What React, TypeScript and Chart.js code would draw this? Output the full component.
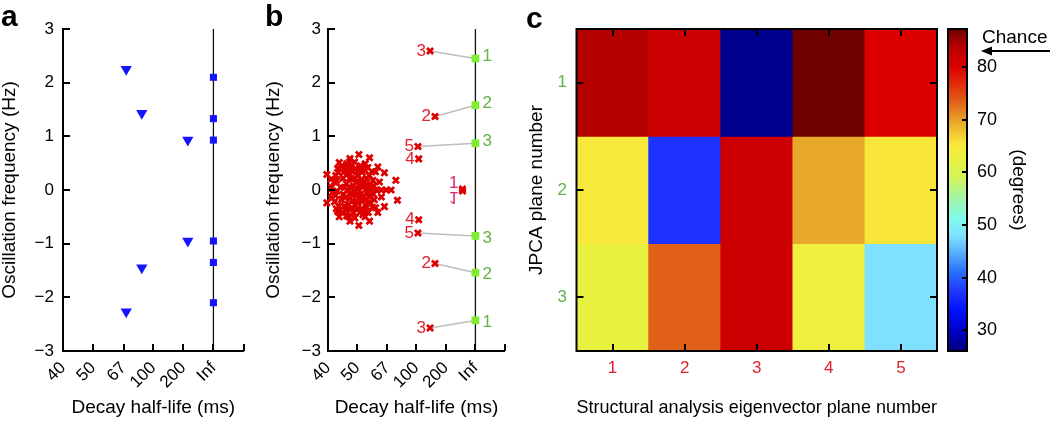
import React, { useEffect, useRef } from 'react';
import { Chart, registerables } from 'chart.js';

Chart.register(...registerables);

const FONT_FAMILY = '"Liberation Sans", Arial, Helvetica, sans-serif';
Chart.defaults.font.family = FONT_FAMILY;
Chart.defaults.color = '#000';

// ---------------- shared axes of panels a and b ----------------
const HALF_LIFE_TICKS_MS = [40, 50, 67, 100, 200, Infinity];
const HALF_LIFE_TICK_LABELS = ['40', '50', '67', '100', '200', 'Inf'];
const FREQ_TICKS_HZ = [-3, -2, -1, 0, 1, 2, 3];
const RATE_MIN = -0.005; // right end of the decay axis (1/ms)
const RATE_MAX = 0.025; // 40 ms

// ---------------- panel a ----------------
const A_TRIANGLE_HALF_LIFE = [69, 84, 235, 235, 84, 69];
const A_TRIANGLE_FREQ = [2.25, 1.43, 0.93, -0.95, -1.45, -2.27];
const A_SQUARE_HALF_LIFE = [Infinity, Infinity, Infinity, Infinity, Infinity, Infinity];
const A_SQUARE_FREQ = [2.1, 1.33, 0.93, -0.95, -1.35, -2.1];

// ---------------- panel b ----------------
const B_CLUSTER: [number, number][] = [
  [50.6, 0.66], [47.0, 0.585], [55.7, 0.6], [43.3, 0.51], [45.8, 0.49], [53.5, 0.49], [60.4, 0.43],
  [64.8, 0.32], [42.8, 0.4], [59.0, 0.34], [39.7, 0.29], [39.7, -0.24], [42.2, 0.27], [41.8, 0.15],
  [42.2, -0.1], [41.9, -0.22], [61.4, 0.15], [62.7, -0.13], [74.1, 0.18], [75.6, -0.19],
  [56.8, 0], [59.6, 0], [62.7, 0], [66.1, 0], [69.9, 0],
  [50.6, -0.66], [47.0, -0.58], [55.7, -0.58], [43.3, -0.5], [45.8, -0.48], [53.5, -0.5], [60.4, -0.42],
  [64.8, -0.31], [42.8, -0.4], [59.0, -0.33],
  [43.0, 0.33], [44.5, 0.22], [43.8, 0.05], [44.0, -0.18], [43.2, -0.3],
  [45.5, 0.4], [46.2, 0.3], [45.7, 0.12], [46.0, -0.02], [45.4, -0.14], [46.3, -0.27], [45.6, -0.38],
  [47.3, 0.44], [48.0, 0.34], [47.6, 0.2], [48.3, 0.08], [47.5, -0.06], [48.1, -0.2], [47.7, -0.33], [48.4, -0.43],
  [49.3, 0.4], [50.1, 0.28], [49.6, 0.14], [50.3, 0.02], [49.5, -0.1], [50.2, -0.24], [49.8, -0.36],
  [51.3, 0.45], [52.0, 0.33], [51.6, 0.19], [52.3, 0.05], [51.5, -0.08], [52.1, -0.21], [51.7, -0.35], [52.4, -0.46],
  [53.5, 0.36], [54.2, 0.22], [53.8, 0.08], [54.4, -0.05], [53.6, -0.18], [54.1, -0.31],
  [55.6, 0.27], [56.0, 0.1], [55.4, -0.12], [56.2, -0.24], [57.5, 0.18], [57.8, -0.08],
  [41.0, 0.05], [41.2, -0.05], [40.8, 0.2], [41.0, -0.15], [42.5, 0.18], [42.6, -0.02], [42.4, -0.35],
  [44.0, 0.44], [44.8, 0.33], [45.0, 0.05], [44.6, -0.08], [44.9, -0.3], [44.2, -0.42],
  [46.8, 0.52], [46.9, 0.22], [46.7, 0.05], [46.9, -0.16], [46.8, -0.36], [46.6, -0.5],
  [48.8, 0.52], [49.0, 0.22], [48.9, -0.02], [49.0, -0.28], [48.9, -0.52],
  [50.8, 0.38], [50.9, 0.1], [50.7, -0.15], [51.0, -0.42],
  [52.9, 0.42], [53.0, 0.14], [52.8, -0.12], [53.0, -0.4],
  [54.8, 0.42], [55.0, 0.02], [54.9, -0.24], [55.0, -0.42],
  [57.0, 0.34], [57.2, -0.32], [58.0, 0.08], [58.3, -0.18],
];
const B_EIG_LABELS = ['3', '2', '5', '4', '3', '2', '5', '4'];
const B_EIG_HALF_LIFE = [130, 146, 102.6, 104, 130, 146, 102.6, 104];
const B_EIG_FREQ = [2.59, 1.37, 0.81, 0.58, -2.57, -1.37, -0.8, -0.555];
const B_SLOW_LABELS = ['1', '1'];
const B_SLOW_HALF_LIFE = [456, 456];
const B_SLOW_FREQ = [0.02, -0.02];
const B_JPCA_LABELS = ['1', '2', '3', '3', '2', '1'];
const B_JPCA_HALF_LIFE = [Infinity, Infinity, Infinity, Infinity, Infinity, Infinity];
const B_JPCA_FREQ = [2.45, 1.58, 0.87, -0.855, -1.54, -2.43];
// [index in B_EIG, index in B_JPCA]
const B_LINKS: [number, number][] = [[0, 0], [1, 1], [2, 2], [4, 5], [5, 4], [6, 3]];

// ---------------- panel c ----------------
const C_COLUMNS = ['1', '2', '3', '4', '5'];
const C_ROWS = [1, 2, 3];
const C_ROW_1 = [84, 82, 27, 87.2, 80];
const C_ROW_2 = [65, 37, 82, 69.5, 65.5];
const C_ROW_3 = [62.5, 73.5, 82, 63.5, 48];
const C_COLORBAR_MIN = 26.1;
const C_COLORBAR_MAX = 87.2;
const C_COLORBAR_TICKS = [30, 40, 50, 60, 70, 80];
const C_CHANCE = 83;

// colormap (style)
const COLOR_STOPS: [number, number[]][] = [
  [26.1, [0, 0, 125]], [30, [0, 0, 200]], [34, [0, 20, 255]], [37, [30, 50, 255]], [41, [40, 110, 255]],
  [45, [90, 180, 250]], [48, [128, 224, 255]], [51, [128, 250, 240]], [55, [160, 245, 170]], [59, [210, 245, 90]],
  [62.5, [232, 240, 64]], [63.5, [240, 240, 64]], [65.5, [248, 230, 58]], [69.5, [232, 168, 42]],
  [73.5, [224, 96, 24]], [77, [225, 40, 10]], [80, [221, 0, 0]], [82, [204, 0, 0]], [84, [181, 0, 0]],
  [87.2, [110, 0, 0]],
];

function colorFor(v: number): string {
  if (v <= COLOR_STOPS[0][0]) return `rgb(${COLOR_STOPS[0][1].join(',')})`;
  for (let i = 1; i < COLOR_STOPS.length; i++) {
    const [v1, c1] = COLOR_STOPS[i];
    const [v0, c0] = COLOR_STOPS[i - 1];
    if (v <= v1) {
      const t = (v - v0) / (v1 - v0);
      const c = c0.map((x, k) => Math.round(x + (c1[k] - x) * t));
      return `rgb(${c.join(',')})`;
    }
  }
  return `rgb(${COLOR_STOPS[COLOR_STOPS.length - 1][1].join(',')})`;
}

const toRate = (ms: number) => 1 / ms;
const minus = (v: number) => (v < 0 ? '\u2212' + Math.abs(v) : String(v));

const RED = '#dd0000';
const RED_TEXT = '#e0202e';
const GREEN_TEXT = '#62b246';
const GREEN_SQ = '#80ee30';
const BLUE = '#1414ff';

const noGrid = { display: false, drawTicks: false };

// fixed axis box sizes, no extra layout padding from labels
const fixHeight = (h: number) => (s: any) => {
  s.height = h;
  s.paddingLeft = 0; s.paddingRight = 0; s.paddingTop = 0; s.paddingBottom = 0;
};
const fixWidth = (w: number) => (s: any) => {
  s.width = w;
  s.paddingLeft = 0; s.paddingRight = 0; s.paddingTop = 0; s.paddingBottom = 0;
};

type Side = 'top' | 'bottom' | 'left' | 'right';
type Mark = { scale: string; values: number[]; sides: Side[]; len: number };

// inward tick marks at the scales' own tick values, plus optional frame (one instance per chart)
function makeTickPlugin(marks: Mark[], frame: boolean) {
  return {
    id: 'inwardTicks',
    afterDraw(chart: any) {
      const ctx = chart.ctx;
      const a = chart.chartArea;
      ctx.save();
      ctx.strokeStyle = '#000';
      ctx.lineWidth = 2;
      ctx.lineCap = 'butt';
      marks.forEach((m) => {
        const s = chart.scales[m.scale];
        m.values.forEach((v) => {
          const p = Math.round(s.getPixelForValue(v));
          m.sides.forEach((side) => {
            ctx.beginPath();
            if (side === 'bottom') { ctx.moveTo(p, a.bottom); ctx.lineTo(p, a.bottom - m.len); }
            else if (side === 'top') { ctx.moveTo(p, a.top); ctx.lineTo(p, a.top + m.len); }
            else if (side === 'left') { ctx.moveTo(a.left, p); ctx.lineTo(a.left + m.len, p); }
            else { ctx.moveTo(a.right, p); ctx.lineTo(a.right - m.len, p); }
            ctx.stroke();
          });
        });
      });
      if (frame) ctx.strokeRect(a.left, a.top, a.right - a.left, a.bottom - a.top);
      ctx.restore();
    },
  };
}

const pointTextPlugin = {
  id: 'pointText',
  afterDatasetsDraw(chart: any) {
    const ctx = chart.ctx;
    chart.data.datasets.forEach((ds: any, i: number) => {
      if (!ds.pointText) return;
      const meta = chart.getDatasetMeta(i);
      ctx.save();
      ctx.font = `17px ${FONT_FAMILY}`;
      ctx.fillStyle = ds.textColor;
      ctx.textBaseline = 'middle';
      ctx.textAlign = ds.textSide === 'left' ? 'right' : 'left';
      meta.data.forEach((el: any, j: number) => {
        const below = ds.data[j].y < 0;
        const dx = ds.textSide === 'left' ? -ds.textGap : ds.textGap;
        const dy = ds.textLift ? (below ? ds.textLift : -ds.textLift) : 0;
        ctx.save();
        ctx.translate(el.x + dx, el.y + dy);
        if (ds.flipBelow && below) ctx.scale(1, -1);
        ctx.fillText(ds.pointText[j], 0, 0);
        ctx.restore();
      });
      ctx.restore();
    });
  },
};

function decayScales(yWidth: number, yTitlePad: number, yTickPad: number) {
  return {
    x: {
      type: 'linear',
      min: RATE_MIN,
      max: RATE_MAX,
      reverse: true,
      grid: noGrid,
      border: { display: true, color: '#000', width: 2 },
      afterBuildTicks: (s: any) => { s.ticks = HALF_LIFE_TICKS_MS.map((t) => ({ value: toRate(t) })); },
      afterFit: fixHeight(70),
      ticks: {
        autoSkip: false, minRotation: 45, maxRotation: 45, padding: 7, color: '#000',
        font: { size: 17 },
        callback: (_v: any, i: number) => HALF_LIFE_TICK_LABELS[i],
      },
      title: { display: true, text: 'Decay half-life (ms)', color: '#000', font: { size: 19 }, padding: { top: 0, bottom: 2 } },
    },
    y: {
      type: 'linear',
      min: -3,
      max: 3,
      grid: noGrid,
      border: { display: true, color: '#000', width: 2 },
      afterBuildTicks: (s: any) => { s.ticks = FREQ_TICKS_HZ.map((v) => ({ value: v })); },
      afterFit: fixWidth(yWidth),
      ticks: { padding: yTickPad, color: '#000', font: { size: 17 }, callback: (v: any) => minus(Number(v)) },
      title: { display: true, text: 'Oscillation frequency (Hz)', color: '#000', font: { size: 19 }, padding: { top: yTitlePad, bottom: 0 } },
    },
  };
}

const decayMarks = (): Mark[] => [
  { scale: 'x', values: [...HALF_LIFE_TICKS_MS.map(toRate), RATE_MIN], sides: ['bottom'], len: 7 },
  { scale: 'y', values: FREQ_TICKS_HZ, sides: ['left'], len: 7 },
];

const infLine = () => ({
  data: [{ x: 0, y: -3 }, { x: 0, y: 3 }],
  showLine: true, borderColor: '#111', borderWidth: 1.3, pointRadius: 0, clip: false,
});

const baseOptions = {
  responsive: false,
  animation: false,
  events: [],
  plugins: { legend: { display: false }, tooltip: { enabled: false } },
};

function configA(): any {
  return {
    type: 'scatter',
    data: {
      datasets: [
        {
          data: A_SQUARE_HALF_LIFE.map((t, i) => ({ x: toRate(t), y: A_SQUARE_FREQ[i] })),
          pointStyle: 'rect', pointRadius: 5, backgroundColor: BLUE, borderColor: BLUE, borderWidth: 0, clip: false,
        },
        {
          data: A_TRIANGLE_HALF_LIFE.map((t, i) => ({ x: toRate(t), y: A_TRIANGLE_FREQ[i] })),
          pointStyle: 'triangle', rotation: 180, pointRadius: 6.5, backgroundColor: BLUE, borderColor: BLUE, borderWidth: 0, clip: false,
        },
        infLine(),
      ],
    },
    options: {
      ...baseOptions,
      layout: { padding: { left: 0, right: 4, top: 29, bottom: 0 } },
      scales: decayScales(65, 0, 9),
    },
    plugins: [makeTickPlugin(decayMarks(), false)],
  };
}

function configB(): any {
  const eigPts = B_EIG_HALF_LIFE.map((t, i) => ({ x: toRate(t), y: B_EIG_FREQ[i] }));
  const jpcaPts = B_JPCA_HALF_LIFE.map((t, i) => ({ x: toRate(t), y: B_JPCA_FREQ[i] }));
  const cross = { pointStyle: 'crossRot', pointRadius: 4.3, borderColor: RED, backgroundColor: RED, borderWidth: 2.8, clip: false };
  return {
    type: 'scatter',
    data: {
      datasets: [
        {
          data: jpcaPts, pointStyle: 'rect', pointRadius: 5.5, backgroundColor: GREEN_SQ, borderColor: GREEN_SQ,
          borderWidth: 0, clip: false,
          pointText: B_JPCA_LABELS, textColor: GREEN_TEXT, textSide: 'right', textGap: 7, textLift: 2,
        },
        { data: eigPts, ...cross, pointText: B_EIG_LABELS, textColor: RED_TEXT, textSide: 'left', textGap: 4 },
        {
          data: B_SLOW_HALF_LIFE.map((t, i) => ({ x: toRate(t), y: B_SLOW_FREQ[i] })), ...cross,
          pointText: B_SLOW_LABELS, textColor: '#d8246a', textSide: 'left', textGap: 4, textLift: 6, flipBelow: true,
        },
        { data: B_CLUSTER.map(([t, f]) => ({ x: toRate(t), y: f })), ...cross },
        ...B_LINKS.map(([e, j]) => ({
          data: [eigPts[e], jpcaPts[j]], showLine: true, borderColor: '#bdbdbd', borderWidth: 1.5, pointRadius: 0, clip: false,
        })),
        infLine(),
      ],
    },
    options: {
      ...baseOptions,
      layout: { padding: { left: 0, right: 2, top: 29, bottom: 0 } },
      scales: decayScales(78, 12.6, 7),
    },
    plugins: [makeTickPlugin(decayMarks(), false), pointTextPlugin],
  };
}

function configC(): any {
  const rows = [C_ROW_1, C_ROW_2, C_ROW_3];
  return {
    type: 'bar',
    data: {
      labels: C_COLUMNS,
      datasets: C_ROWS.map((r, ri) => ({
        data: C_COLUMNS.map(() => [r - 0.5, r + 0.5]),
        backgroundColor: rows[ri].map(colorFor),
        borderWidth: 0, grouped: false, barPercentage: 1, categoryPercentage: 1,
      })),
    },
    options: {
      ...baseOptions,
      layout: { padding: { left: 0, right: 5, top: 29, bottom: 0 } },
      scales: {
        x: {
          type: 'category', offset: true,
          grid: noGrid, border: { display: false },
          afterFit: fixHeight(70),
          ticks: { color: RED_TEXT, font: { size: 17 }, padding: 7, minRotation: 0, maxRotation: 0 },
          title: { display: true, text: 'Structural analysis eigenvector plane number', color: '#000', font: { size: 19 }, padding: { top: 0, bottom: 2 } },
        },
        y: {
          type: 'linear', min: 0.5, max: 3.5, reverse: true,
          grid: noGrid, border: { display: false },
          afterBuildTicks: (s: any) => { s.ticks = C_ROWS.map((v) => ({ value: v })); },
          afterFit: fixWidth(61.5),
          ticks: { color: GREEN_TEXT, font: { size: 17 }, padding: 9.5 },
          title: { display: true, text: 'JPCA plane number', color: '#000', font: { size: 19 }, padding: { top: 10.5, bottom: 0 } },
        },
      },
    },
    plugins: [
      makeTickPlugin(
        [
          { scale: 'x', values: C_COLUMNS.map((_c, i) => i), sides: ['bottom', 'top'], len: 7 },
          { scale: 'y', values: C_ROWS, sides: ['left', 'right'], len: 7 },
        ],
        true,
      ),
    ],
  };
}

function configColorbar(): any {
  return {
    type: 'bar',
    data: {
      labels: [''],
      datasets: [
        {
          data: [[C_COLORBAR_MIN, C_COLORBAR_MAX]],
          borderWidth: 0, barPercentage: 1, categoryPercentage: 1,
          backgroundColor: (ctx: any) => {
            const chart = ctx.chart;
            const y = chart.scales && chart.scales.y;
            if (!chart.chartArea || !y) return colorFor(60);
            const g = chart.ctx.createLinearGradient(0, y.getPixelForValue(C_COLORBAR_MIN), 0, y.getPixelForValue(C_COLORBAR_MAX));
            for (const [v, c] of COLOR_STOPS) {
              const t = (v - C_COLORBAR_MIN) / (C_COLORBAR_MAX - C_COLORBAR_MIN);
              g.addColorStop(Math.min(1, Math.max(0, t)), `rgb(${c.join(',')})`);
            }
            return g;
          },
        },
      ],
    },
    options: {
      ...baseOptions,
      layout: { padding: { left: 6, right: 0, top: 29, bottom: 70 } },
      scales: {
        x: { display: false, offset: true },
        y: {
          position: 'right', min: C_COLORBAR_MIN, max: C_COLORBAR_MAX,
          grid: noGrid, border: { display: false },
          afterBuildTicks: (s: any) => { s.ticks = C_COLORBAR_TICKS.map((v) => ({ value: v })); },
          afterFit: fixWidth(83),
          ticks: { color: '#000', font: { size: 18 }, padding: 10 },
          title: { display: true, text: '(degrees)', color: '#000', font: { size: 19 }, padding: { top: 20.6, bottom: 0 } },
        },
      },
    },
    plugins: [
      makeTickPlugin([{ scale: 'y', values: C_COLORBAR_TICKS, sides: ['right'], len: 5 }], true),
      {
        id: 'chance',
        afterDraw(chart: any) {
          const { ctx, chartArea: a, width } = chart;
          const y = Math.round(chart.scales.y.getPixelForValue(C_CHANCE));
          const tip = a.right + 14;
          ctx.save();
          ctx.fillStyle = '#000';
          ctx.strokeStyle = '#000';
          ctx.lineWidth = 2;
          ctx.beginPath();
          ctx.moveTo(tip + 8, y);
          ctx.lineTo(width, y);
          ctx.stroke();
          ctx.beginPath();
          ctx.moveTo(tip, y);
          ctx.lineTo(tip + 11, y - 4.5);
          ctx.lineTo(tip + 11, y + 4.5);
          ctx.closePath();
          ctx.fill();
          ctx.font = `19px ${FONT_FAMILY}`;
          ctx.textAlign = 'left';
          ctx.textBaseline = 'alphabetic';
          ctx.fillText('Chance', a.right + 15, y - 8);
          ctx.restore();
        },
      },
    ],
  };
}

const letterStyle = (left: number, top: number): React.CSSProperties => ({
  position: 'absolute', left, top, font: `bold 30px ${FONT_FAMILY}`, lineHeight: '30px', color: '#000',
});

export default function App() {
  const aRef = useRef<HTMLCanvasElement>(null);
  const bRef = useRef<HTMLCanvasElement>(null);
  const cRef = useRef<HTMLCanvasElement>(null);
  const dRef = useRef<HTMLCanvasElement>(null);

  useEffect(() => {
    const charts = [
      new Chart(aRef.current as HTMLCanvasElement, configA()),
      new Chart(bRef.current as HTMLCanvasElement, configB()),
      new Chart(cRef.current as HTMLCanvasElement, configC()),
      new Chart(dRef.current as HTMLCanvasElement, configColorbar()),
    ];
    return () => charts.forEach((c) => c.destroy());
  }, []);

  const cv = (left: number, width: number): React.CSSProperties => ({
    position: 'absolute', left, top: 0, width, height: 421,
  });

  return (
    <div style={{ position: 'fixed', left: 0, top: 0, width: 1050, height: 421, background: '#fff', overflow: 'hidden' }}>
      <canvas ref={aRef} width={252} height={421} style={cv(-2, 252)} />
      <canvas ref={bRef} width={262} height={421} style={cv(250, 262)} />
      <canvas ref={cRef} width={427} height={421} style={cv(515, 427)} />
      <canvas ref={dRef} width={108} height={421} style={cv(942, 108)} />
      <div style={letterStyle(1, 1)}>a</div>
      <div style={letterStyle(265, 1)}>b</div>
      <div style={letterStyle(526, 3)}>c</div>
    </div>
  );
}
